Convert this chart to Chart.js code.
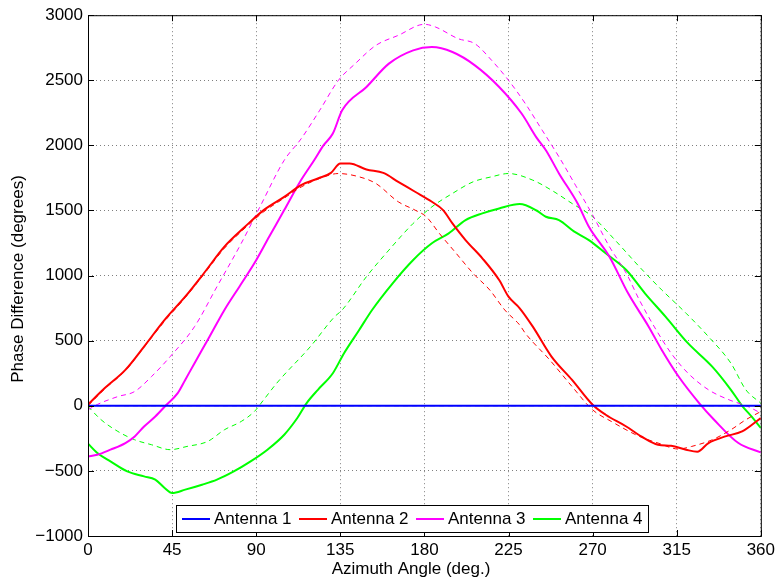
<!DOCTYPE html>
<html>
<head>
<meta charset="utf-8">
<script src="https://cdn.jsdelivr.net/npm/chart.js@4.4.0/dist/chart.umd.min.js"></script>
<style>
html, body { margin: 0; padding: 0; background: #fff; }
#wrap { width: 779px; height: 584px; }
</style>
</head>
<body>
<div id="wrap"><canvas id="phaseChart" width="779" height="584"></canvas></div>
<script>
// axis ticks
var xTicks = [0, 45, 90, 135, 180, 225, 270, 315, 360];
var yTicks = [-1000, -500, 0, 500, 1000, 1500, 2000, 2500, 3000];

var names = ['Antenna 1', 'Antenna 2', 'Antenna 3', 'Antenna 4'];
var colors = ['#0000ff', '#ff0000', '#ff00ff', '#00ff00'];
var dashColors = ['#8c8cff', '#ff0000', '#ff00ff', '#00ff00'];

// Antenna 1 (reference, flat)
var ant1Deg = [0, 360];
var ant1Val = [0, 0];
var ant1DashVal = [0, 0];

// Antenna 2
var ant2Deg = [0, 9, 20, 30, 41, 52, 62, 73, 84, 94, 105, 114, 123, 130, 135, 140, 149, 158, 166, 175, 184, 190, 195, 202, 211, 220, 225, 231, 238, 248, 259, 270, 277, 288, 296, 305, 312, 320, 326, 332, 341, 350, 360];
var ant2Val = [10, 136, 276, 455, 660, 838, 1018, 1222, 1375, 1503, 1605, 1695, 1746, 1789, 1861, 1861, 1815, 1789, 1720, 1644, 1567, 1503, 1401, 1273, 1133, 966, 838, 749, 608, 378, 199, 8, -69, -159, -235, -299, -307, -337, -353, -286, -235, -197, -94];
var ant2DashDeg = [0, 9, 20, 30, 41, 52, 62, 73, 84, 94, 105, 114, 124, 134, 145, 154, 166, 175, 181, 188, 197, 206, 215, 223, 231, 234, 247, 259, 270, 280, 295, 305, 316, 323, 334, 344, 352, 360];
var ant2DashVal = [0, 130, 270, 450, 650, 830, 1010, 1210, 1365, 1490, 1595, 1680, 1746, 1784, 1759, 1708, 1567, 1503, 1452, 1324, 1171, 1018, 889, 736, 620, 557, 353, 148, -31, -120, -235, -286, -332, -312, -261, -184, -107, -44];

// Antenna 3
var ant3Deg = [0, 5, 12, 20, 25, 30, 36, 42, 48, 52, 57, 65, 73, 81, 89, 97, 105, 113, 121, 126, 131, 136, 149, 161, 174, 184, 195, 207, 220, 232, 240, 245, 252, 262, 268, 279, 289, 300, 307, 316, 327, 335, 348, 360];
var ant3Val = [-389, -376, -337, -286, -235, -159, -82, 8, 97, 199, 327, 530, 736, 915, 1094, 1300, 1503, 1710, 1886, 2000, 2091, 2270, 2449, 2628, 2730, 2755, 2717, 2615, 2449, 2245, 2060, 1963, 1785, 1554, 1375, 1145, 864, 608, 429, 225, 21, -107, -286, -358];
var ant3DashDeg = [0, 5, 16, 25, 34, 44, 57, 69, 82, 92, 105, 114, 124, 134, 143, 154, 166, 180, 186, 198, 207, 216, 225, 234, 243, 252, 261, 270, 279, 288, 295, 304, 312, 321, 332, 343, 353, 360];
var ant3DashVal = [-31, 10, 71, 110, 225, 378, 608, 915, 1248, 1528, 1886, 2050, 2270, 2500, 2628, 2768, 2845, 2930, 2909, 2820, 2781, 2653, 2500, 2321, 2117, 1912, 1690, 1465, 1222, 1018, 813, 583, 404, 251, 123, 46, -5, -56];

// Antenna 4
var ant4Deg = [0, 5, 12, 21, 30, 36, 41, 45, 52, 61, 69, 78, 87, 96, 105, 112, 117, 123, 131, 137, 145, 152, 163, 174, 184, 193, 202, 211, 220, 231, 240, 245, 252, 260, 268, 277, 288, 298, 309, 321, 334, 344, 350, 355, 360];
var ant4Val = [-291, -363, -427, -504, -542, -567, -631, -670, -644, -606, -567, -504, -427, -337, -222, -94, 21, 123, 250, 404, 580, 736, 941, 1120, 1248, 1324, 1426, 1478, 1516, 1549, 1500, 1452, 1426, 1340, 1273, 1171, 1043, 864, 685, 481, 301, 123, 0, -82, -170];
var ant4DashDeg = [0, 7, 16, 25, 34, 44, 53, 64, 73, 82, 89, 94, 101, 119, 132, 136, 149, 161, 174, 184, 195, 206, 216, 225, 238, 248, 259, 270, 282, 295, 307, 320, 332, 344, 352, 360];
var ant4DashVal = [-5, -107, -197, -261, -299, -337, -312, -274, -184, -120, -44, 46, 174, 455, 685, 736, 992, 1196, 1401, 1528, 1631, 1720, 1759, 1784, 1733, 1656, 1554, 1452, 1273, 1068, 890, 711, 531, 327, 123, 20];

var FONT = "'Liberation Sans', Arial, Helvetica, sans-serif";

function pts(deg, val) {
    return deg.map(function (d, i) { return { x: d, y: val[i] }; });
}

function solid(i, deg, val) {
    return {
        label: names[i], data: pts(deg, val), borderColor: colors[i],
        borderWidth: 2, pointRadius: 0, cubicInterpolationMode: 'monotone', fill: false
    };
}
function dashed(i, deg, val) {
    return {
        label: '', data: pts(deg, val), borderColor: dashColors[i],
        borderWidth: 1, borderDash: [5, 4], pointRadius: 0, cubicInterpolationMode: 'monotone', fill: false
    };
}

// plain tick text, with a real minus sign
function tickText(v) {
    return v < 0 ? '\u2212' + Math.abs(v) : String(v);
}

// frame, inward ticks, legend box and axis titles
var matlabLook = {
    id: 'matlabLook',
    afterDraw: function (chart) {
        var c = chart.ctx, a = chart.chartArea;
        var xs = chart.scales.x, ys = chart.scales.y;
        c.save();
        c.strokeStyle = '#000';
        c.lineWidth = 1;
        c.strokeRect(a.left + 0.5, a.top + 0.5, a.right - a.left, a.bottom - a.top);
        c.beginPath();
        xTicks.forEach(function (v) {
            var px = Math.round(xs.getPixelForValue(v)) + 0.5;
            c.moveTo(px, a.bottom); c.lineTo(px, a.bottom - 6);
            c.moveTo(px, a.top); c.lineTo(px, a.top + 6);
        });
        yTicks.forEach(function (v) {
            var py = Math.round(ys.getPixelForValue(v)) + 0.5;
            c.moveTo(a.left, py); c.lineTo(a.left + 6, py);
            c.moveTo(a.right, py); c.lineTo(a.right - 6, py);
        });
        c.stroke();

        // legend
        var bx = a.left + 88, by = 505, bw = 472, bh = 27;
        c.fillStyle = '#fff';
        c.fillRect(bx, by, bw, bh);
        c.strokeRect(bx + 0.5, by + 0.5, bw, bh);
        c.font = '17px ' + FONT;
        c.textBaseline = 'middle';
        c.textAlign = 'left';
        for (var i = 0; i < names.length; i++) {
            var x0 = bx + 6 + i * 117;
            c.strokeStyle = colors[i];
            c.lineWidth = 2;
            c.beginPath();
            c.moveTo(x0, by + 14); c.lineTo(x0 + 28, by + 14);
            c.stroke();
            c.fillStyle = '#000';
            c.fillText(names[i], x0 + 32, by + 14.5);
        }

        // axis titles
        c.fillStyle = '#000';
        c.textAlign = 'center';
        c.fillText('Azimuth Angle (deg.)', 411, 569);
        c.translate(18, 279);
        c.rotate(-Math.PI / 2);
        c.fillText('Phase Difference (degrees)', 0, 0);
        c.restore();
    }
};

var ctx = document.getElementById('phaseChart').getContext('2d');
var chart = new Chart(ctx, {
    type: 'line',
    data: {
        datasets: [
            solid(0, ant1Deg, ant1Val),
            dashed(0, ant1Deg, ant1DashVal),
            solid(1, ant2Deg, ant2Val),
            dashed(1, ant2DashDeg, ant2DashVal),
            solid(2, ant3Deg, ant3Val),
            dashed(2, ant3DashDeg, ant3DashVal),
            solid(3, ant4Deg, ant4Val),
            dashed(3, ant4DashDeg, ant4DashVal)
        ]
    },
    options: {
        responsive: false,
        animation: false,
        layout: { padding: { left: 0, right: 17, top: 14, bottom: 0 } },
        plugins: { legend: { display: false }, tooltip: { enabled: false } },
        scales: {
            x: {
                type: 'linear', min: 0, max: 360,
                afterBuildTicks: function (s) { s.ticks = xTicks.map(function (v) { return { value: v }; }); },
                afterFit: function (s) { s.height = 48; },
                ticks: { autoSkip: false, maxRotation: 0, padding: 4, color: '#000', font: { family: FONT, size: 17 },
                         callback: function (v) { return tickText(v); } },
                grid: { color: 'rgba(0,0,0,0.5)', lineWidth: 1, drawTicks: false },
                border: { display: false, dash: [1, 3] }
            },
            y: {
                min: -1000, max: 3000,
                afterBuildTicks: function (s) { s.ticks = yTicks.map(function (v) { return { value: v }; }); },
                afterFit: function (s) { s.width = 88; },
                ticks: { padding: 5, color: '#000', font: { family: FONT, size: 17 },
                         callback: function (v) { return tickText(v); } },
                grid: { color: 'rgba(0,0,0,0.5)', lineWidth: 1, drawTicks: false },
                border: { display: false, dash: [1, 3] }
            }
        }
    },
    plugins: [matlabLook]
});
</script>
</body>
</html>
